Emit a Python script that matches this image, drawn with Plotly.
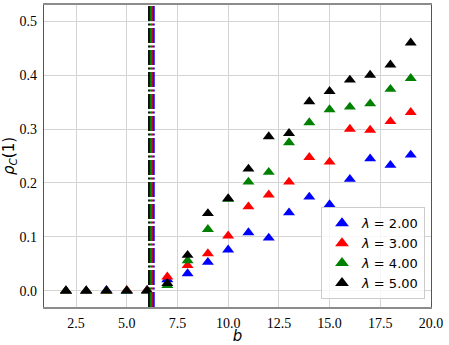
import plotly.graph_objects as go

b_values = list(range(2, 20))

rho_lam2 = [0, 0, 0.001, 0, 0.001, 0.021, 0.032, 0.053, 0.076, 0.108, 0.098, 0.145, 0.174, 0.160, 0.207, 0.245, 0.233, 0.252]
rho_lam3 = [0, 0, 0, 0.001, 0.001, 0.026, 0.047, 0.069, 0.102, 0.156, 0.178, 0.202, 0.2475, 0.239, 0.300, 0.298, 0.314, 0.331]
rho_lam4 = [0, 0, 0, 0, 0, 0.010, 0.056, 0.114, 0.170, 0.202, 0.220, 0.275, 0.312, 0.336, 0.341, 0.347, 0.374, 0.394]
rho_lam5 = [0, 0, 0, 0, 0, 0.014, 0.066, 0.1435, 0.171, 0.226, 0.286, 0.292, 0.351, 0.370, 0.391, 0.400, 0.419, 0.460]

lambda_labels = ["2.00", "3.00", "4.00", "5.00"]
series = [rho_lam2, rho_lam3, rho_lam4, rho_lam5]
colors = ["#0000ff", "#ff0000", "#008000", "#000000"]

# critical b for each lambda (vertical dash-dot lines)
b_critical = [6.33, 6.25, 6.18, 6.10]

x_ticks = [2.5, 5.0, 7.5, 10.0, 12.5, 15.0, 17.5, 20.0]
y_ticks = [0.0, 0.1, 0.2, 0.3, 0.4, 0.5]

fig = go.Figure()
for lab, vals, col in zip(lambda_labels, series, colors):
    fig.add_trace(go.Scatter(
        x=b_values, y=vals, mode="markers",
        name=f"<i>λ</i> = {lab}",
        marker=dict(symbol="triangle-up", size=10.5, color=col, line=dict(width=0)),
    ))

# draw vertical lines: black first, blue last
for xc, col in reversed(list(zip(b_critical, colors))):
    fig.add_shape(type="line", xref="x", yref="paper", x0=xc, x1=xc, y0=0, y1=1,
                  line=dict(color=col, width=2, dash="15px,2.5px,2px,2.5px"), layer="above")

fig.update_layout(
    width=449, height=345,
    margin=dict(l=44, r=18, t=5, b=38, autoexpand=False),
    paper_bgcolor="white", plot_bgcolor="white",
    showlegend=True,
    legend=dict(
        x=0.9845, y=0.0255, xanchor="right", yanchor="bottom",
        bgcolor="rgba(255,255,255,0.8)", bordercolor="#cccccc", borderwidth=1,
        font=dict(family="DejaVu Sans", size=13, color="black"),
        tracegroupgap=0, itemsizing="constant",
    ),
    font=dict(family="Liberation Serif", size=14, color="black"),
)

fig.update_xaxes(
    range=[0.92, 20.0], tickvals=x_ticks, ticktext=[f"{v:.1f}" for v in x_ticks],
    showgrid=True, gridcolor="#d4d4d4", gridwidth=1, zeroline=False,
    showline=True, linecolor="#8c8c8c", linewidth=1.5, mirror=True,
    ticks="", ticklabelstandoff=2, automargin=False,
    tickfont=dict(family="Liberation Serif", size=14, color="black"),
    title=dict(text="<i>b</i>", font=dict(family="DejaVu Sans", size=15, color="black"), standoff=9),
)
fig.update_yaxes(
    range=[-0.03, 0.53], tickvals=y_ticks, ticktext=[f"{v:.1f}" for v in y_ticks],
    showgrid=True, gridcolor="#d4d4d4", gridwidth=1, zeroline=False,
    showline=True, linecolor="#555555", linewidth=1.2, mirror=True,
    ticks="", ticklabelstandoff=3, automargin=False,
    tickfont=dict(family="Liberation Serif", size=14, color="black"),
    title=dict(text="<i>ρ</i><sub><i>C</i></sub>(1)", font=dict(family="DejaVu Sans", size=15, color="black"), standoff=3),
)

fig.write_html("out.html", config={"displayModeBar": False},
               post_script="document.body.style.margin='0px';")
